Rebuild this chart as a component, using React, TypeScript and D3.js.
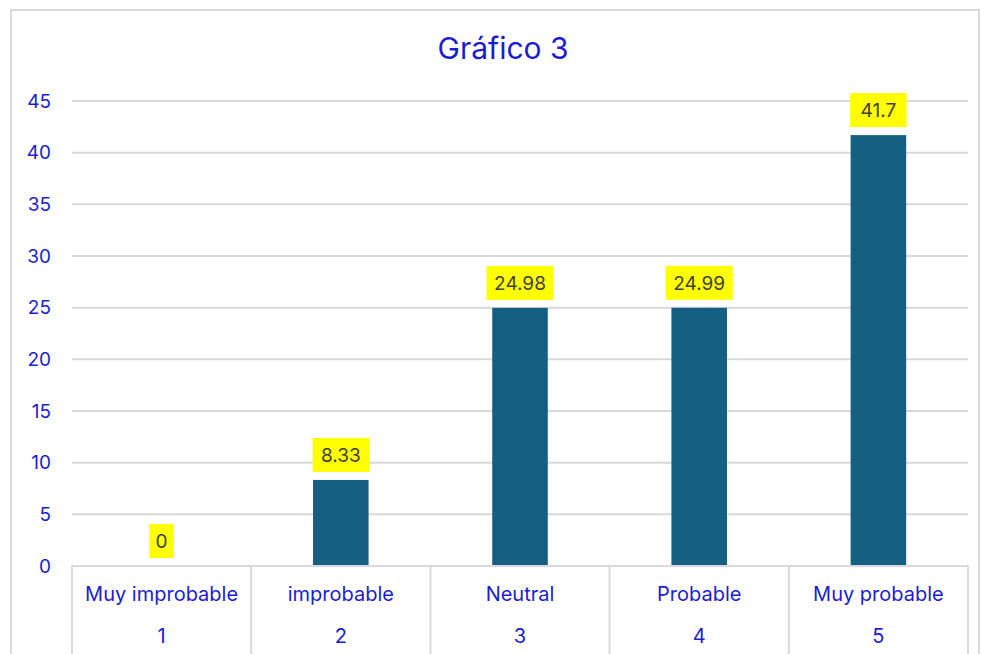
import React from 'react';
import * as d3 from 'd3';

const categories = ['Muy improbable', 'improbable', 'Neutral', 'Probable', 'Muy probable'];
const codes = ['1', '2', '3', '4', '5'];
const values = [0, 8.33, 24.98, 24.99, 41.7];
const labels = ['0', '8.33', '24.98', '24.99', '41.7'];
const yTicks = [0, 5, 10, 15, 20, 25, 30, 35, 40, 45];

const W = 981;
const H = 654;
const FONT = 'Inter, "Open Sans", "Noto Sans", sans-serif';
const BLUE = '#1c1cd0';
const GRID = '#d9d9d9';

const App: React.FC = () => {
  const left = 72;
  const right = 968;
  const top = 101;
  const bottom = 566;

  const x = d3.scaleBand<string>().domain(categories).range([left, right]).paddingInner(0).paddingOuter(0);
  const y = d3.scaleLinear().domain([0, 45]).range([bottom, top]);
  const barW = x.bandwidth() * 0.31;

  return (
    <div style={{ position: 'absolute', left: 0, top: 0 }}>
      <svg width={W} height={H} style={{ display: 'block', background: '#fff' }}>
        {/* chart border */}
        <rect x={11} y={10} width={968} height={H + 10} fill="#fff" stroke={GRID} strokeWidth={2} />

        <text x={503} y={59} textAnchor="middle" fontFamily={FONT} fontSize={30} fill={BLUE}>
          Gráfico 3
        </text>

        {yTicks.map(t => (
          <g key={t}>
            {t > 0 && <line x1={left} x2={right} y1={y(t)} y2={y(t)} stroke={GRID} strokeWidth={2} />}
            <text x={51} y={y(t)} dy="0.35em" textAnchor="end" fontFamily={FONT} fontSize={19} fill={BLUE}>
              {t}
            </text>
          </g>
        ))}

        {categories.map((c, i) => {
          const cx = (x(c) ?? 0) + x.bandwidth() / 2;
          const v = values[i];
          const yTop = y(v);
          const txtW = labels[i].length * 10.6;
          const boxW = txtW + 14;
          const boxH = 34;
          const boxBottom = yTop - 8;
          return (
            <g key={c}>
              {v > 0 && <rect x={cx - barW / 2} y={yTop} width={barW} height={bottom - yTop} fill="#156082" />}
              <rect x={cx - boxW / 2} y={boxBottom - boxH} width={boxW} height={boxH} fill="#ffff00" />
              <text x={cx} y={boxBottom - boxH / 2} dy="0.36em" textAnchor="middle" fontFamily={FONT} fontSize={19} fill="#404040">
                {labels[i]}
              </text>
              <text x={cx} y={594} dy="0.35em" textAnchor="middle" fontFamily={FONT} fontSize={20} fill={BLUE}>
                {c}
              </text>
              <text x={cx} y={636} dy="0.35em" textAnchor="middle" fontFamily={FONT} fontSize={20} fill={BLUE}>
                {codes[i]}
              </text>
            </g>
          );
        })}

        {/* category axis */}
        <line x1={left} x2={right} y1={bottom} y2={bottom} stroke={GRID} strokeWidth={2} />
        {[...categories.map(c => x(c) ?? 0), right].map((sx, i) => (
          <line key={i} x1={sx} x2={sx} y1={bottom} y2={H} stroke={GRID} strokeWidth={2} />
        ))}
      </svg>
    </div>
  );
};

export default App;
